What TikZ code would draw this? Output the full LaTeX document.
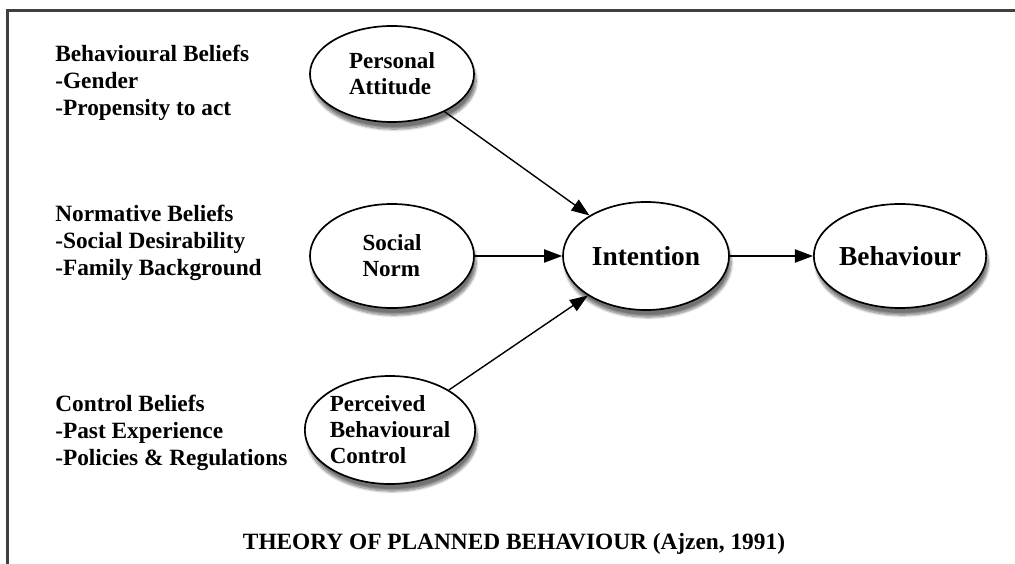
\documentclass[tikz,border=0pt]{standalone}
\usepackage{fontspec}
\setmainfont{Liberation Serif}
\usetikzlibrary{shapes.geometric,arrows.meta,shadows.blur}

\tikzset{
blob/.style={ellipse, draw, line width=1.2pt, fill=white, inner sep=0pt, align=left,
  blur shadow={shadow xshift=1.5pt, shadow yshift=-5pt, shadow blur steps=10, shadow opacity=55},
  font=\bfseries\fontsize{16.4}{18.5}\selectfont},
big/.style={font=\bfseries\fontsize{19.5}{22}\selectfont},
belief/.style={anchor=north west, inner sep=0pt, align=left, font=\bfseries\fontsize{16.6}{19}\selectfont},
link/.style={line width=1pt, -{Triangle[length=0.45cm,width=0.33cm]}}
}

\begin{document}
\begin{tikzpicture} [x=0.025cm, y=-0.025cm]
\useasboundingbox (0,0) rectangle (1015,564);
\coordinate (fbl) at (7.5,564);
\coordinate (ftl) at (7.5,10.5);
\coordinate (ftr) at (1015,10.5);
\draw [line width=1.5pt, black!75] (fbl)--(ftl)--(ftr);
\node [belief] (bbeliefs) at (55,45) {Behavioural Beliefs\\-Gender\\-Propensity to act};
\node [belief] (nbeliefs) at (55,205) {Normative Beliefs\\-Social Desirability\\-Family Background};
\node [belief] (cbeliefs) at (55,395) {Control Beliefs\\-Past Experience\\-Policies \& Regulations};
\node [blob, minimum width=4.1cm, minimum height=2.4cm] (attitude) at (392,74) {Personal\\Attitude};
\node [blob, minimum width=4.1cm, minimum height=2.6cm] (norm) at (392,256) {Social\\Norm};
\node [blob, minimum width=4.1cm, minimum height=2.7cm] (control) at (390,430) {Perceived\\Behavioural\\Control};
\node [blob, big, minimum width=4.15cm, minimum height=2.7cm] (intention) at (646,256) {Intention};
\node [blob, big, minimum width=4.15cm, minimum height=2.6cm] (behaviour) at (900,256) {Behaviour};
\draw [link] (attitude)--(intention);
\draw [link] (norm)--(intention);
\draw [link] (control)--(intention);
\draw [link] (intention)--(behaviour);
\node [anchor=base, font=\bfseries\fontsize{16.6}{19}\selectfont] (caption) at (514,549) {THEORY OF PLANNED BEHAVIOUR (Ajzen, 1991)};
\end{tikzpicture}
\end{document}
